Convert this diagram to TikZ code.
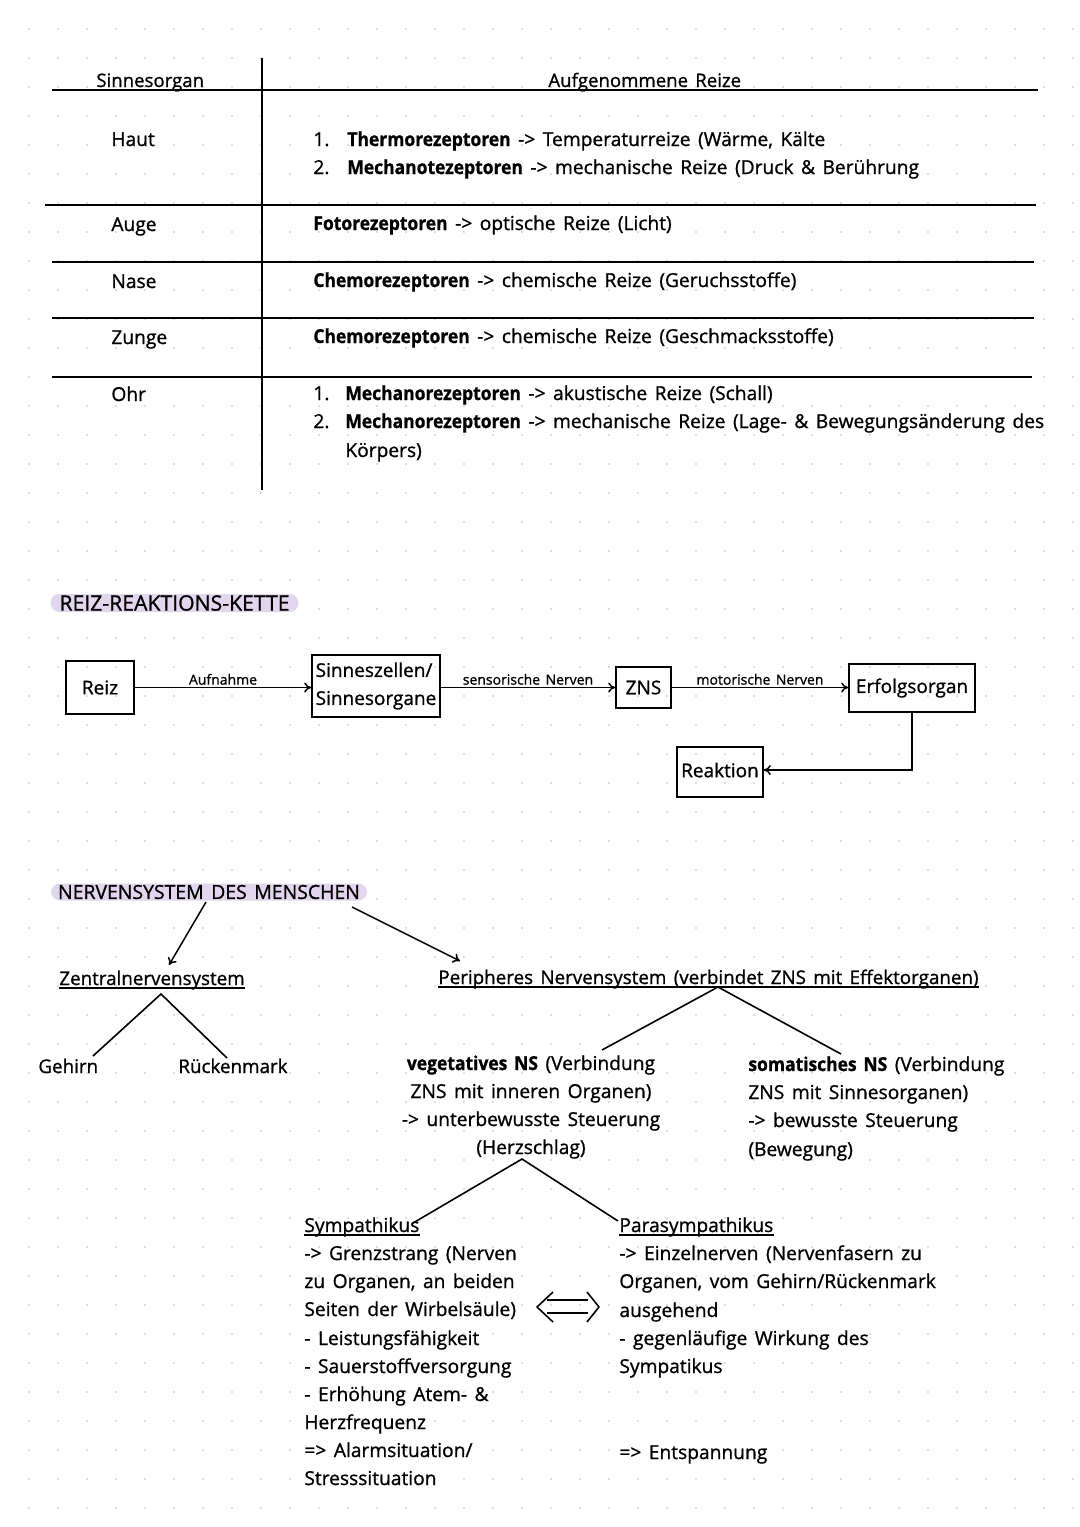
\documentclass[tikz,border=0pt]{standalone}
\usepackage{fontspec}
\setmainfont{Open Sans}[WordSpace=1.5, FakeBold=1.0]
\usepackage{graphicx}
\usetikzlibrary{calc,arrows.meta}
\definecolor{hl}{RGB}{225,214,237}
\definecolor{dotc}{RGB}{212,212,212}
\newcommand{\B}[1]{\scalebox{0.91}[1]{\bfseries #1}}
\begin{document}
\begin{tikzpicture}[x=0.5pt,y=-0.5pt,
  txt/.style={inner sep=0pt, anchor=base west, font=\fontsize{9.6}{14}\selectfont},
  ctxt/.style={txt, anchor=base},
  lower/.style={txt, font=\fontsize{9.4}{14}\selectfont},
  small/.style={inner sep=1pt, font=\fontsize{7}{8}\selectfont},
  ln/.style={line width=0.8pt},
  ul/.style={line width=0.6pt},
  box/.style={draw, line width=0.85pt, inner sep=0pt, font=\fontsize{9.5}{14}\selectfont, align=left},
  arr/.style={line width=0.75pt, -{To[length=3.5pt,width=5pt]}},
  hlbox/.style={fill=hl, rounded corners=4.5pt, inner sep=0pt, font=\fontsize{9.7}{12}\selectfont},
]
\fill[white] (0,0) rectangle (1080,1527);
\useasboundingbox (0,0) rectangle (1080,1527);
\foreach \i in {1,...,37}{\foreach \j in {1,...,52}{\fill[dotc] (29*\i,29*\j) circle (0.6pt);}}

% ---------- table ----------
\draw[ln] (52,90) -- (1038,90);
\draw[ln] (45,205) -- (1036,205);
\draw[ln] (52,262) -- (1034,262);
\draw[ln] (52,318) -- (1034,318);
\draw[ln] (52,377) -- (1032,377);
\draw[ln] (262,58) -- (262,490);

\node[txt, font=\fontsize{9.3}{14}\selectfont] (hS) at (96,87) {Sinnesorgan};
\node[txt, font=\fontsize{9.3}{14}\selectfont] (hA) at (548,87) {Aufgenommene Reize};
\node[txt] (oHaut) at (111,146) {Haut};
\node[txt] (n11) at (313,146) {1.};
\node[txt] (r11) at (347,146) {\B{Thermorezeptoren} -> Temperaturreize (Wärme, Kälte};
\node[txt] (n12) at (313,174) {2.};
\node[txt] (r12) at (347,174) {\B{Mechanotezeptoren} -> mechanische Reize (Druck \& Berührung};
\node[txt] (oAuge) at (111,231) {Auge};
\node[txt] (r2) at (313,230) {\B{Fotorezeptoren} -> optische Reize (Licht)};
\node[txt] (oNase) at (111,288) {Nase};
\node[txt] (r3) at (313,287) {\B{Chemorezeptoren} -> chemische Reize (Geruchsstoffe)};
\node[txt] (oZunge) at (111,344) {Zunge};
\node[txt] (r4) at (313,343) {\B{Chemorezeptoren} -> chemische Reize (Geschmacksstoffe)};
\node[txt] (oOhr) at (111,401) {Ohr};
\node[txt] (n51) at (313,400) {1.};
\node[txt] (r51) at (345,400) {\B{Mechanorezeptoren} -> akustische Reize (Schall)};
\node[txt] (n52) at (313,428) {2.};
\node[txt] (r52) at (345,428) {\B{Mechanorezeptoren} -> mechanische Reize (Lage- \& Bewegungsänderung des};
\node[txt] (r53) at (345,457) {Körpers)};

% ---------- Reiz-Reaktions-Kette ----------
\node[hlbox, minimum width=124pt, minimum height=9pt, font=\fontsize{10.6}{12}\selectfont] (h1) at (174.5,603) {REIZ-REAKTIONS-KETTE};

\node[box, minimum width=34pt, minimum height=26.5pt, align=center] (reiz) at (100,687.5) {Reiz};
\node[box, minimum width=64pt, minimum height=31pt] (sinn) at (376,686) {Sinneszellen/\\Sinnesorgane};
\node[box, minimum width=27.5pt, minimum height=20.5pt, align=center] (zns) at (643.5,687.5) {ZNS};
\node[box, minimum width=63pt, minimum height=24pt, align=center] (erf) at (912,688) {Erfolgsorgan};
\node[box, minimum width=43pt, minimum height=25pt, align=center] (reak) at (720,772) {\raisebox{2pt}{Reaktion}};

\draw[arr] (reiz.east) -- node[small, above] (lAuf) {Aufnahme} (reiz.east -| sinn.west);
\draw[arr] (sinn.east |- zns.west) -- node[small, above] (lSen) {sensorische Nerven} (zns.west);
\draw[arr] (zns.east) -- node[small, above] (lMot) {motorische Nerven} (zns.east -| erf.west);
\draw[arr] (erf.south) |- ([yshift=1pt]reak.east);

% ---------- Nervensystem ----------
\node[hlbox, minimum width=158pt, minimum height=8.5pt] (h2) at (209,892) {NERVENSYSTEM DES MENSCHEN};

\coordinate (a1s) at (206,902);
\coordinate (a1e) at (169,965);
\coordinate (a2s) at (352,907);
\coordinate (a2e) at (460,961);
\draw[arr] (a1s) -- (a1e);
\draw[arr] (a2s) -- (a2e);

\node[lower] (zen) at (59,985) {Zentralnervensystem};
\draw[ul] ($(zen.base west)+(0,3)$) -- ($(zen.base east)+(0,3)$);
\coordinate (zA) at (161,994);
\coordinate (zL) at (93,1056);
\coordinate (zR) at (227,1058);
\draw[ln] (zL) -- (zA) -- (zR);
\node[lower] (geh) at (38,1073) {Gehirn};
\node[lower] (rue) at (178,1073) {Rückenmark};

\node[lower] (per) at (438,984) {Peripheres Nervensystem (verbindet ZNS mit Effektorganen)};
\draw[ul] ($(per.base west)+(0,3)$) -- ($(per.base east)+(0,3)$);
\coordinate (pA) at (718,987);
\coordinate (pL) at (602,1050);
\coordinate (pR) at (841,1054);
\draw[ln] (pL) -- (pA) -- (pR);

\node[ctxt] (v1) at (531,1070) {\B{vegetatives NS} (Verbindung};
\node[ctxt] (v2) at (531,1098) {ZNS mit inneren Organen)};
\node[ctxt] (v3) at (531,1126) {-> unterbewusste Steuerung};
\node[ctxt] (v4) at (531,1154) {(Herzschlag)};

\node[txt] (s1) at (748,1071) {\B{somatisches NS} (Verbindung};
\node[txt] (s2) at (748,1099) {ZNS mit Sinnesorganen)};
\node[txt] (s3) at (748,1127) {-> bewusste Steuerung};
\node[txt] (s4) at (748,1156) {(Bewegung)};

\coordinate (vA) at (522,1159);
\coordinate (vL) at (413,1223);
\coordinate (vR) at (618,1221);
\draw[ln] (vL) -- (vA) -- (vR);

\node[txt] (y1) at (304,1232) {Sympathikus};
\draw[ul] ($(y1.base west)+(0,3)$) -- ($(y1.base east)+(0,3)$);
\node[txt] (y2) at (304,1260) {-> Grenzstrang (Nerven};
\node[txt] (y3) at (304,1288) {zu Organen, an beiden};
\node[txt] (y4) at (304,1316) {Seiten der Wirbelsäule)};
\node[txt] (y5) at (304,1345) {- Leistungsfähigkeit};
\node[txt] (y6) at (304,1373) {- Sauerstoffversorgung};
\node[txt] (y7) at (304,1401) {- Erhöhung Atem- \&};
\node[txt] (y8) at (304,1429) {Herzfrequenz};
\node[txt] (y9) at (304,1457) {=> Alarmsituation/};
\node[txt] (y10) at (304,1485) {Stresssituation};

\node[txt] (p1) at (619,1232) {Parasympathikus};
\draw[ul] ($(p1.base west)+(0,3)$) -- ($(p1.base east)+(0,3)$);
\node[txt] (p2) at (619,1260) {-> Einzelnerven (Nervenfasern zu};
\node[txt] (p3) at (619,1288) {Organen, vom Gehirn/Rückenmark};
\node[txt] (p4) at (619,1317) {ausgehend};
\node[txt] (p5) at (619,1345) {- gegenläufige Wirkung des};
\node[txt] (p6) at (619,1373) {Sympatikus};
\node[txt] (p7) at (619,1459) {=> Entspannung};

% double arrow
\draw[ln] (547,1300) -- (588,1300);
\draw[ln] (547,1313) -- (588,1313);
\draw[ln, line join=round] (553,1292) -- (537,1307) -- (553,1322);
\draw[ln, line join=round] (587,1292) -- (599,1307) -- (587,1322);
\end{tikzpicture}
\end{document}
